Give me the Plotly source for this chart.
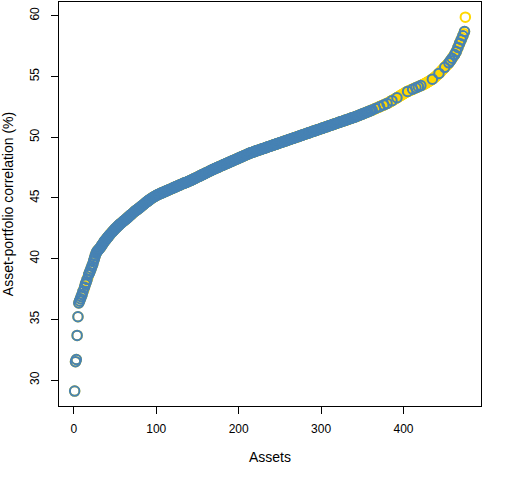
import plotly.graph_objects as go

# asset-portfolio correlations (%), sorted ascending, one per asset
corr = [
    29.10, 31.52, 31.70, 33.68, 35.22, 36.35, 36.52, 36.70, 36.88, 37.05,
    37.30, 37.42, 37.65, 37.90, 38.05, 38.28, 38.45, 38.70, 38.85, 39.02,
    39.20, 39.38, 39.55, 39.80, 40.02, 40.25, 40.44, 40.58, 40.66, 40.75,
    40.82, 40.90, 41.00, 41.12, 41.20, 41.30, 41.42, 41.50, 41.58, 41.68,
    41.75, 41.84, 41.92, 42.00, 42.08, 42.15, 42.24, 42.30, 42.38, 42.45,
    42.52, 42.58, 42.65, 42.72, 42.78, 42.85, 42.90, 42.96, 43.02, 43.08,
    43.13, 43.18, 43.24, 43.30, 43.36, 43.42, 43.48, 43.55, 43.60, 43.66,
    43.72, 43.78, 43.84, 43.90, 43.96, 44.00, 44.05, 44.10, 44.15, 44.20,
    44.26, 44.32, 44.38, 44.42, 44.48, 44.54, 44.60, 44.66, 44.70, 44.76,
    44.80, 44.86, 44.90, 44.96, 45.00, 45.05, 45.08, 45.12, 45.16, 45.20,
    45.24, 45.27, 45.30, 45.33, 45.36, 45.40, 45.42, 45.45, 45.48, 45.51,
    45.54, 45.57, 45.60, 45.63, 45.66, 45.69, 45.72, 45.75, 45.78, 45.81,
    45.84, 45.87, 45.90, 45.93, 45.96, 45.99, 46.02, 46.05, 46.08, 46.11,
    46.14, 46.17, 46.20, 46.22, 46.25, 46.28, 46.30, 46.33, 46.36, 46.39,
    46.42, 46.45, 46.48, 46.52, 46.55, 46.58, 46.62, 46.65, 46.68, 46.72,
    46.75, 46.78, 46.82, 46.85, 46.88, 46.92, 46.95, 46.98, 47.02, 47.05,
    47.08, 47.12, 47.15, 47.18, 47.22, 47.25, 47.28, 47.32, 47.35, 47.38,
    47.41, 47.44, 47.47, 47.50, 47.53, 47.56, 47.59, 47.62, 47.65, 47.68,
    47.71, 47.74, 47.77, 47.80, 47.83, 47.86, 47.89, 47.92, 47.95, 47.98,
    48.01, 48.04, 48.07, 48.10, 48.13, 48.16, 48.19, 48.22, 48.25, 48.28,
    48.31, 48.34, 48.37, 48.40, 48.43, 48.46, 48.49, 48.52, 48.55, 48.58,
    48.61, 48.64, 48.67, 48.70, 48.72, 48.75, 48.77, 48.79, 48.82, 48.84,
    48.86, 48.89, 48.91, 48.93, 48.96, 48.98, 49.00, 49.03, 49.05, 49.07,
    49.10, 49.12, 49.14, 49.17, 49.19, 49.21, 49.24, 49.26, 49.28, 49.31,
    49.33, 49.35, 49.38, 49.40, 49.42, 49.45, 49.47, 49.49, 49.52, 49.54,
    49.56, 49.59, 49.61, 49.63, 49.66, 49.68, 49.70, 49.73, 49.75, 49.77,
    49.80, 49.82, 49.84, 49.87, 49.89, 49.91, 49.94, 49.96, 49.98, 50.01,
    50.03, 50.05, 50.08, 50.10, 50.12, 50.15, 50.17, 50.20, 50.22, 50.24,
    50.27, 50.29, 50.31, 50.34, 50.36, 50.38, 50.41, 50.43, 50.45, 50.48,
    50.50, 50.52, 50.55, 50.57, 50.59, 50.62, 50.64, 50.66, 50.69, 50.71,
    50.73, 50.76, 50.78, 50.80, 50.83, 50.85, 50.87, 50.90, 50.92, 50.94,
    50.97, 50.99, 51.01, 51.04, 51.06, 51.08, 51.11, 51.13, 51.15, 51.18,
    51.20, 51.22, 51.25, 51.27, 51.29, 51.32, 51.34, 51.36, 51.39, 51.41,
    51.43, 51.46, 51.48, 51.50, 51.53, 51.55, 51.57, 51.60, 51.62, 51.64,
    51.66, 51.69, 51.72, 51.74, 51.77, 51.80, 51.83, 51.85, 51.88, 51.91,
    51.94, 51.96, 51.99, 52.02, 52.05, 52.07, 52.10, 52.13, 52.16, 52.18,
    52.21, 52.24, 52.27, 52.30, 52.33, 52.36, 52.39, 52.42, 52.45, 52.48,
    52.51, 52.54, 52.57, 52.60, 52.63, 52.66, 52.69, 52.72, 52.75, 52.78,
    52.81, 52.85, 52.89, 52.93, 52.97, 53.01, 53.05, 53.09, 53.13, 53.17,
    53.21, 53.25, 53.29, 53.33, 53.37, 53.41, 53.45, 53.50, 53.54, 53.58,
    53.62, 53.66, 53.70, 53.74, 53.77, 53.80, 53.83, 53.86, 53.89, 53.92,
    53.95, 53.98, 54.01, 54.04, 54.07, 54.10, 54.13, 54.16, 54.19, 54.22,
    54.25, 54.28, 54.31, 54.34, 54.37, 54.41, 54.45, 54.49, 54.53, 54.57,
    54.61, 54.65, 54.69, 54.73, 54.78, 54.83, 54.88, 54.94, 55.00, 55.06,
    55.12, 55.18, 55.25, 55.32, 55.39, 55.46, 55.53, 55.60, 55.67, 55.75,
    55.83, 55.90, 55.97, 56.04, 56.12, 56.20, 56.30, 56.40, 56.50, 56.60,
    56.70, 56.80, 56.92, 57.05, 57.20, 57.38, 57.55, 57.72, 57.88, 58.02,
    58.18, 58.35, 58.52, 58.70, 59.88,
]
assets = list(range(1, len(corr) + 1))

# assets in the lower part that are NOT drawn in blue
gold_only_low = [12, 17, 45, 58, 72, 95, 118, 131, 150, 163, 178, 196, 209,
                 226, 241, 255, 262, 270, 281, 288, 293, 299, 305, 311, 316, 320,
                 326, 331, 335, 339, 344, 348, 352, 355, 358]
# assets in the upper part that ARE drawn in blue
blue_high = [362, 366, 371, 376, 380, 386, 392, 405, 411, 415, 418, 421, 435,
             443, 450, 455, 457, 459, 462, 464, 466, 468, 470, 472, 474]

blue_x = [a for a in assets if (a <= 360 and a not in gold_only_low) or a in blue_high]
blue_y = [corr[a - 1] for a in blue_x]

fig = go.Figure()
fig.add_trace(go.Scatter(x=assets, y=corr, mode='markers',
                         marker=dict(symbol='circle-open', size=9.5, color='#FFD700',
                                     line=dict(width=2, color='#FFD700'))))
fig.add_trace(go.Scatter(x=blue_x, y=blue_y, mode='markers',
                         marker=dict(symbol='circle-open', size=9.5, color='#4682B4',
                                     line=dict(width=2, color='#4682B4'))))

axis_style = dict(showline=True, linecolor='black', linewidth=1, mirror=True,
                  ticks='outside', ticklen=7, tickcolor='black', showgrid=False,
                  zeroline=False, automargin=False,
                  tickfont=dict(size=12, color='black'))

fig.update_layout(
    width=512, height=480,
    margin=dict(l=59, r=31, t=2, b=74),
    plot_bgcolor='white', paper_bgcolor='white',
    showlegend=False,
    font=dict(family='Liberation Sans, Arial', size=12, color='black'),
)
fig.update_xaxes(range=[-18, 494], tickvals=[0, 100, 200, 300, 400],
                 ticklabelstandoff=5,
                 title=dict(text='Assets', standoff=16), **axis_style)
fig.update_yaxes(range=[27.87, 61.13], tickvals=[30, 35, 40, 45, 50, 55, 60],
                 tickangle=-90, ticklabelstandoff=7,
                 title=dict(text='Asset-portfolio correlation (%)', standoff=12),
                 **axis_style)

fig.write_html("out.html", config={'displayModeBar': False},
               post_script="document.body.style.margin='0';")
